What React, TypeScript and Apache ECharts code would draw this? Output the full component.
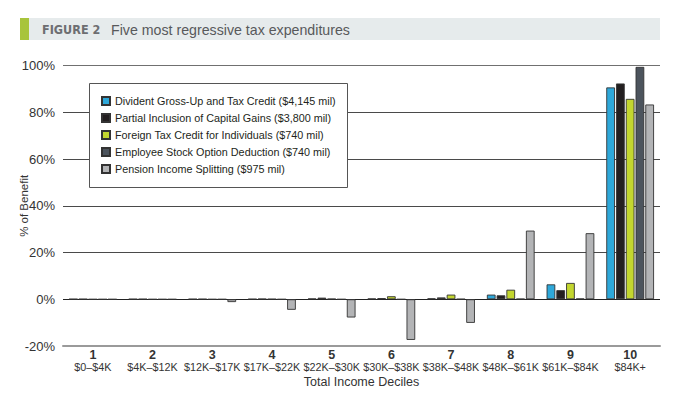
import React, { useEffect, useRef } from "react";
import * as echarts from "echarts";

const deciles = ["1", "2", "3", "4", "5", "6", "7", "8", "9", "10"];
const ranges = ["$0–$4K", "$4K–$12K", "$12K–$17K", "$17K–$22K", "$22K–$30K", "$30K–$38K", "$38K–$48K", "$48K–$61K", "$61K–$84K", "$84K+"];
const seriesNames = [
  "Divident Gross-Up and Tax Credit ($4,145 mil)",
  "Partial Inclusion of Capital Gains ($3,800 mil)",
  "Foreign Tax Credit for Individuals ($740 mil)",
  "Employee Stock Option Deduction ($740 mil)",
  "Pension Income Splitting ($975 mil)",
];
const dividend = [0.1, 0.1, 0.1, 0.1, 0.3, 0.3, 0.4, 2.0, 6.4, 90.7];
const capitalGains = [0.1, 0.1, 0.1, 0.2, 0.7, 0.5, 0.8, 1.7, 3.9, 92.4];
const foreignCredit = [0.0, 0.0, 0.0, 0.1, 0.2, 1.3, 2.0, 4.1, 7.0, 85.8];
const stockOption = [0.0, 0.0, 0.0, 0.0, 0.0, 0.0, 0.1, 0.2, 0.3, 99.5];
const pensionSplitting = [0.0, 0.0, -1.2, -4.5, -7.8, -17.4, -10.1, 29.4, 28.3, 83.4];
const yTicks = { min: -20, max: 100, interval: 20 };

const seriesData = [dividend, capitalGains, foreignCredit, stockOption, pensionSplitting];
const colors = ["#2ea8da", "#231f20", "#c3d62f", "#4c545d", "#b3b4b6"];
const NARROW = "'Liberation Sans Narrow', 'Liberation Sans', sans-serif";

export default function App() {
  const ref = useRef<HTMLDivElement>(null);
  useEffect(() => {
    document.body.style.margin = "0";
    if (!ref.current) return;
    const chart = echarts.init(ref.current, null, { renderer: "svg" });
    chart.setOption({
      animation: false,
      backgroundColor: "#ffffff",
      graphic: [
        { type: "rect", z: 1, shape: { x: 29, y: 18, width: 631, height: 22 }, style: { fill: "#e6ebec" } },
        { type: "rect", z: 1, shape: { x: 20, y: 18, width: 9, height: 22 }, style: { fill: "#a8c43c" } },
        {
          type: "text", z: 2, x: 42, y: 29.5,
          style: { text: "FIGURE 2", fill: "#6d6e71", font: "bold 12.5px 'DejaVu Sans Condensed', sans-serif", verticalAlign: "middle" },
        },
        {
          type: "text", z: 2, x: 111, y: 29.5,
          style: { text: "Five most regressive tax expenditures", fill: "#58595b", font: "14.2px " + NARROW, verticalAlign: "middle" },
        },
        {
          type: "rect", z: 5, shape: { x: 89.5, y: 83.5, width: 258, height: 104 },
          style: { fill: "#ffffff", stroke: "#555555", lineWidth: 1 },
        },
      ],
      legend: {
        z: 10,
        orient: "vertical",
        left: 101,
        top: 94,
        padding: 0,
        itemWidth: 8,
        itemHeight: 8,
        itemGap: 3,
        icon: "rect",
        selectedMode: false,
        data: seriesNames,
        textStyle: { fontFamily: NARROW, fontSize: 10.8, lineHeight: 14, color: "#231f20" },
      },
      grid: { left: 63, right: 21, top: 65.7, bottom: 56, containLabel: false },
      xAxis: {
        type: "category",
        data: deciles,
        name: "Total Income Deciles",
        nameLocation: "middle",
        nameGap: 29,
        nameMoveOverlap: false,
        nameTextStyle: { fontFamily: NARROW, fontSize: 12.5, color: "#333" },
        axisLine: { onZero: false, lineStyle: { color: "#9a9a9a", width: 2 } },
        axisTick: { show: false },
        axisLabel: {
          margin: 3,
          interval: 0,
          formatter: (v: string, i: number) => `{n|${v}}\n{r|${ranges[i]}}`,
          rich: {
            n: { fontFamily: NARROW, fontSize: 12.5, fontWeight: "bold", color: "#333", lineHeight: 12 },
            r: { fontFamily: NARROW, fontSize: 10.8, color: "#333", lineHeight: 12 },
          },
        },
      },
      yAxis: {
        type: "value",
        min: yTicks.min,
        max: yTicks.max,
        interval: yTicks.interval,
        name: "% of Benefit",
        nameLocation: "middle",
        nameGap: 33,
        nameMoveOverlap: false,
        nameRotate: 90,
        nameTextStyle: { fontFamily: NARROW, fontSize: 11.5, color: "#333" },
        axisLine: { show: false },
        axisTick: { show: false },
        axisLabel: { margin: 8, formatter: "{value}%", fontFamily: NARROW, fontSize: 13, color: "#333" },
        splitLine: {
          lineStyle: { color: ["#9a9a9a", "#222222", "#4a4a4a", "#4a4a4a", "#4a4a4a", "#4a4a4a", "#707070"], width: 1 },
        },
      },
      series: seriesNames.map((name, i) => ({
        name,
        type: "bar",
        data: seriesData[i],
        barCategoryGap: "20%",
        barGap: "12%",
        itemStyle: { color: colors[i], borderColor: "#333333", borderWidth: 0.9 },
      })),
    });
    return () => chart.dispose();
  }, []);
  return <div ref={ref} style={{ width: 681, height: 402 }} />;
}
